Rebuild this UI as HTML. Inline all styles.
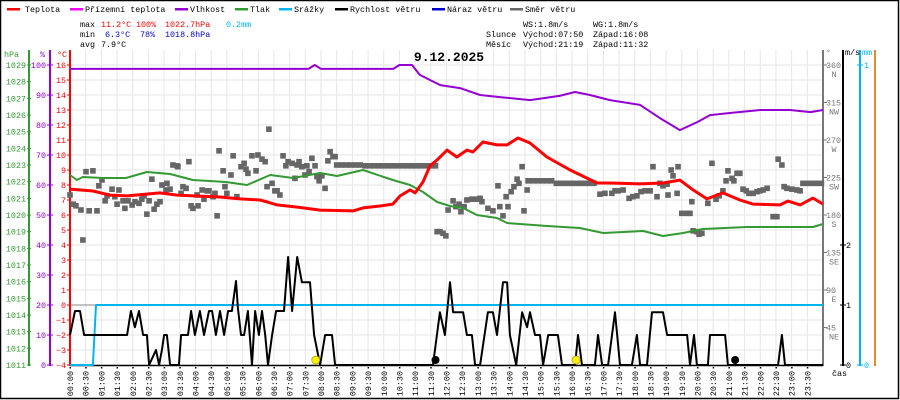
<!DOCTYPE html>
<html><head><meta charset="utf-8"><style>
html,body{margin:0;padding:0;background:#fff;}
svg{display:block;font-family:"Liberation Mono",monospace;}
</style></head><body>
<svg id="chart" width="900" height="400" viewBox="0 0 900 400" xmlns="http://www.w3.org/2000/svg">
<rect x="0.5" y="0.5" width="898" height="398" fill="#fff" stroke="#000" stroke-width="1.5"/>
<g id="grid"></g>
<g id="legend" font-size="8.4">
<g><rect x="7" y="8" width="13" height="2.5" fill="#f00"/><text x="25" y="12">Teplota</text></g>
<g><rect x="70" y="8" width="13" height="2.5" fill="#f0f"/><text x="85" y="12">Přízemní teplota</text></g>
<g><rect x="175" y="8" width="13" height="2.5" fill="#9400d3"/><text x="190" y="12">Vlhkost</text></g>
<g><rect x="235" y="8" width="13" height="2.5" fill="#339933"/><text x="250" y="12">Tlak</text></g>
<g><rect x="279" y="8" width="13" height="2.5" fill="#00b4f0"/><text x="294" y="12">Srážky</text></g>
<g><rect x="335" y="8" width="13" height="2.5" fill="#000"/><text x="350" y="12">Rychlost větru</text></g>
<g><rect x="432" y="8" width="13" height="2.5" fill="#0000cc"/><text x="447" y="12">Náraz větru</text></g>
<g><rect x="510" y="8" width="13" height="2.5" fill="#666"/><text x="525" y="12">Směr větru</text></g>
</g>
<g id="stats" font-size="8.4">
<text x="80" y="27">max</text><text x="101" y="27" fill="#f00">11.2°C</text><text x="136" y="27" fill="#f00">100%</text><text x="165" y="27" fill="#f00">1022.7hPa</text><text x="226" y="27" fill="#00b4f0">0.2mm</text>
<text x="80" y="37">min</text><text x="105" y="37" fill="#0000cc">6.3°C</text><text x="140" y="37" fill="#0000cc">78%</text><text x="165" y="37" fill="#0000cc">1018.8hPa</text>
<text x="80" y="47">avg</text><text x="101" y="47">7.9°C</text>
<text x="523" y="27">WS:1.8m/s</text><text x="593" y="27">WG:1.8m/s</text>
<text x="486" y="37">Slunce</text><text x="523" y="37">Východ:07:50</text><text x="593" y="37">Západ:16:08</text>
<text x="486" y="47">Měsíc</text><text x="523" y="47">Východ:21:19</text><text x="593" y="47">Západ:11:32</text>
</g>
<text x="449" y="61" font-size="13" font-weight="bold" text-anchor="middle">9.12.2025</text>
<g id="axes"></g>
<g id="series"></g>
</svg>
<script>
// ---- data ----
const timeLabels = ["00:00","00:30","01:00","01:30","02:00","02:30","03:00","03:30","04:00","04:30","05:00","05:30","06:00","06:30","07:00","07:30","08:00","08:30","09:00","09:30","10:00","10:30","11:00","11:30","12:00","12:30","13:00","13:30","14:00","14:30","15:00","15:30","16:00","16:30","17:00","17:30","18:00","18:30","19:00","19:30","20:00","20:30","21:00","21:30","22:00","22:30","23:00","23:30"];
const hpaTicks = [1029,1028,1027,1026,1025,1024,1023,1022,1021,1020,1019,1018,1017,1016,1015,1014,1013,1012,1011];
const pctTicks = [100,90,80,70,60,50,40,30,20,10,0];
const tempTicks = [16,15,14,13,12,11,10,9,8,7,6,5,4,3,2,1,0,-1,-2,-3,-4];
const dirTicks = [360,315,270,225,180,135,90,45];
const dirNames = ["N","NW","W","SW","S","SE","E","NE"];
const msTicks = [2,1,0];
const mmTicks = [1,0];

const tempT = [0,0.73,1.27,1.82,2.87,3.41,4.78,5.42,6.06,6.28,6.6,7.24,7.97,9.02,9.34,9.88,10.29,10.52,10.84,11.0,11.25,11.47,11.7,12.02,12.33,12.65,12.84,13.16,13.61,13.93,14.28,14.66,15.2,15.94,16.8,17.21,18.17,18.9,19.44,19.86,20.3,20.81,21.35,21.77,22.63,22.88,23.27,23.68,24];
const tempV = [7.73,7.6,7.33,7.27,7.47,7.33,7.2,7.07,7.0,6.87,6.67,6.53,6.33,6.27,6.47,6.6,6.73,7.27,7.67,7.47,8.2,9.27,9.67,10.33,9.87,10.33,10.2,10.87,10.67,10.67,11.13,10.8,9.87,9.0,8.13,8.13,8.07,8.13,8.33,7.67,7.07,7.47,7.0,6.73,6.67,6.93,6.67,7.13,6.73];

const humT = [0,7.6,7.8,8.0,10.3,10.5,10.9,11.15,11.8,12.43,13.07,13.7,14.66,15.6,16.1,16.57,17.21,18.17,18.8,19.44,20.0,20.4,21.03,22.0,22.95,23.6,24];
const humV = [98.7,98.7,100,98.7,98.7,100,100,96.7,93.3,92.3,90,89.3,88.3,89.7,91,90,88.3,86.7,82.3,78.3,81,83.3,84,85,85,84.3,85];

const presT = [0,0.22,0.41,1.05,1.78,2.45,3.19,3.92,4.97,5.64,6.38,7.11,7.97,8.51,9.34,10.29,10.84,11.25,11.7,12.11,12.53,12.97,13.61,13.93,15.2,16.25,16.99,18.27,18.9,19.54,20.17,21.58,23.68,24];
const presV = [1022.4,1022.1,1022.28,1022.22,1022.22,1022.58,1022.46,1022.1,1021.98,1021.8,1022.4,1022.22,1022.52,1022.34,1022.7,1022.1,1021.8,1021.38,1020.78,1020.54,1020.42,1020.0,1019.82,1019.52,1019.34,1019.22,1018.92,1019.04,1018.74,1018.92,1019.16,1019.28,1019.28,1019.46];

const rainT = [0,0.73,0.83,24];
const rainV = [0,0,0.2,0.2];

const windT = [0,0.16,0.32,0.45,1.82,1.94,2.07,2.2,2.33,2.45,2.52,2.74,2.84,2.93,3.0,3.09,3.19,3.47,3.54,3.76,3.86,3.98,4.14,4.27,4.43,4.53,4.65,4.78,4.91,5.04,5.16,5.29,5.35,5.45,5.55,5.67,5.8,5.9,6.02,6.12,6.22,6.31,6.44,6.57,6.82,6.95,7.08,7.24,7.39,7.65,7.78,7.97,8.13,8.35,8.45,11.57,11.79,11.95,12.11,12.21,12.53,12.65,12.81,12.91,13.07,13.32,13.48,13.61,13.8,13.93,14.02,14.22,14.41,14.57,14.66,14.82,14.98,15.08,15.24,15.55,15.68,16.1,16.19,16.32,16.73,16.83,16.96,17.15,17.37,17.53,17.91,18.07,18.17,18.39,18.55,18.9,19.03,19.67,19.76,19.89,19.98,20.33,20.4,20.88,20.97,22.57,22.69,22.79,24];
const windV = [0.5,0.9,0.9,0.5,0.5,0.9,0.63,0.9,0.5,0.5,0,0.25,0,0.25,0.5,0.5,0,0,0.5,0.5,0.9,0.5,0.9,0.5,0.9,0.9,0.5,0.9,0.5,0.9,0.9,1.4,0.95,0.5,0.5,0.9,0,0.9,0.5,0.9,0.5,0,0.5,0.9,0.9,1.8,0.9,1.8,1.38,1.38,0.5,0,0.5,0.5,0,0,0.88,0.5,1.38,0.88,0.88,0.5,0.5,0,0,0.88,0.88,0.5,1.38,1.38,0.5,0,0.88,0.63,0.88,0.5,0.5,0,0.5,0.5,0,0,0.5,0,0,0.5,0,0,0.88,0,0,0.5,0,0,0.88,0.88,0.5,0.5,0,0.5,0,0,0.5,0.5,0,0,0.5,0,0];

const dirT = [0,0.10,0.19,0.35,0.41,0.51,0.61,0.73,0.86,0.92,1.02,1.12,1.18,1.34,1.43,1.5,1.56,1.69,1.75,1.85,1.98,2.07,2.2,2.29,2.36,2.45,2.52,2.61,2.68,2.77,2.87,2.93,3.06,3.09,3.19,3.28,3.41,3.44,3.54,3.6,3.7,3.79,3.86,3.92,4.05,4.08,4.21,4.27,4.37,4.43,4.56,4.62,4.69,4.75,4.88,4.94,5.0,5.13,5.2,5.32,5.45,5.55,5.61,5.67,5.8,5.93,5.99,6.12,6.22,6.28,6.34,6.44,6.53,6.6,6.69,6.79,6.88,6.95,7.08,7.17,7.24,7.3,7.39,7.49,7.55,7.62,7.71,7.81,7.87,7.94,8.03,8.13,8.22,8.29,8.38,8.45,
8.5,8.65,8.8,8.95,9.1,9.25,9.4,9.55,9.7,9.85,10.0,10.15,10.3,10.45,10.6,10.75,10.9,11.05,11.2,11.35,11.5,11.65,
11.7,11.79,11.89,11.98,12.05,12.21,12.3,12.4,12.46,12.56,12.65,12.81,12.97,13.07,13.13,13.32,13.48,13.64,13.7,13.8,13.9,13.96,14.06,14.15,14.25,14.31,14.41,14.47,14.57,
14.6,14.75,14.9,15.05,15.2,15.35,15.5,15.65,15.8,15.95,16.1,16.25,16.4,16.55,16.7,
16.89,17.05,17.27,17.37,17.47,17.63,17.82,17.94,18.07,18.2,18.33,18.49,18.58,18.71,18.8,18.9,19.03,19.06,19.16,19.22,19.35,19.38,19.5,19.67,19.76,19.82,19.86,19.98,20.05,20.14,20.33,20.46,20.59,20.69,20.81,20.91,20.97,21.1,21.16,21.26,21.35,21.45,21.55,21.64,21.77,21.9,21.99,22.09,22.22,22.41,22.53,22.57,22.69,22.76,22.85,23.01,23.17,23.27,
23.36,23.5,23.65,23.8,23.95];
const dirV = [204,193,191,186,150,232,185,233,185,215,222,197,203,211,202,193,210,197,188,197,192,196,194,199,203,181,197,223,187,193,196,216,210,218,211,240,239,238,206,214,212,244,191,188,204,191,210,199,209,209,202,206,179,257,233,214,206,228,251,202,238,242,235,230,251,233,252,247,244,214,283,218,209,209,204,251,239,244,242,224,240,244,238,228,239,232,248,239,226,221,227,212,245,256,250,250,
240,240,240,240,240,240,239,239,239,239,239,239,239,239,239,239,239,239,239,239,239,239,
160,160,158,155,186,197,190,193,184,190,198,199,199,200,196,188,185,215,190,179,202,190,208,214,223,218,238,185,210,
221,221,221,221,221,221,218,218,218,218,218,218,218,218,218,
205,206,206,209,209,210,200,202,203,208,209,209,238,202,218,215,217,204,234,227,206,238,182,182,182,196,161,160,157,158,194,242,199,203,209,221,233,224,221,230,230,211,209,206,206,208,209,210,212,178,178,247,240,214,212,211,210,209,
218,218,218,218,218];

const sunEventsT = [7.833,16.133];
const moonEventsT = [11.65,21.2];

// ---- scales ----
const X = t => 70 + t * 31.375;
const YC = c => 305 - 15 * c;
const YH = h => 65 + (1029 - h) * 300 / 18;
const YP = p => 365 - 3 * p;
const YD = d => 365 - d / 1.2;
const YS = s => 365 - 60 * s;
const YR = r => 365 - 300 * r;

const NS = "http://www.w3.org/2000/svg";
function mk(tag, attrs, parent) {
  const e = document.createElementNS(NS, tag);
  for (const k in attrs) e.setAttribute(k, attrs[k]);
  parent.appendChild(e);
  return e;
}
const grid = document.getElementById('grid');
const axes = document.getElementById('axes');
const series = document.getElementById('series');
const FS = 8.4;

for (let i = 0; i <= 48; i++) {
  const x = X(i * 0.5);
  const l = mk('line', {x1: x, x2: x, y1: 50, y2: 365, stroke: '#e6e6e6', 'stroke-width': 1}, grid);
  
  
}
tempTicks.forEach(c => {
  const l = mk('line', {x1: 70, x2: 823, y1: YC(c), y2: YC(c), stroke: c === 0 ? '#888' : '#e6e6e6', 'stroke-width': 1}, grid);
  
  
});

function vline(x, color, name) {
  const l = mk('line', {x1: x, x2: x, y1: 50, y2: 366, stroke: color, 'stroke-width': 2}, axes);
  
  
}
vline(29, '#339933', 'hpa-axis');
vline(50, '#9400d3', 'humidity-axis');
vline(70, '#f00', 'temperature-axis');
vline(823, '#777', 'direction-axis');
vline(843, '#000', 'wind-speed-axis');
vline(860, '#00b4f0', 'rain-axis');
vline(875, '#e8892f', 'extra-axis');

function label(x, y, txt, color, anchor, name) {
  const t = mk('text', {x: x, y: y, fill: color, 'font-size': FS, 'text-anchor': anchor || 'end'}, axes);
  t.textContent = txt;
  
  
  return t;
}
label(4, 57, 'hPa', '#339933', 'start', 'hpa-axis-title');
label(40, 57, '%', '#9400d3', 'start', 'humidity-axis-title');
label(57, 57, '°C', '#f00', 'start', 'temperature-axis-title');
label(826, 55, '°', '#777', 'start', 'direction-axis-title');
label(845, 55, 'm/s', '#000', 'start', 'wind-speed-axis-title');
label(862, 55, 'mm', '#00b4f0', 'start', 'rain-axis-title');

hpaTicks.forEach(h => {
  label(26, YH(h) + 3, String(h), '#339933', 'end', 'hpa-tick-label');
  mk('line', {x1: 27, x2: 31, y1: YH(h), y2: YH(h), stroke: '#339933'}, axes);
});
pctTicks.forEach(p => {
  label(46, YP(p) + 3, String(p), '#9400d3', 'end', 'humidity-tick-label');
  mk('line', {x1: 47, x2: 53, y1: YP(p), y2: YP(p), stroke: '#9400d3'}, axes);
});
tempTicks.forEach(c => {
  label(66, YC(c) + 3, String(c).replace('-', '−'), '#f00', 'end', 'temperature-tick-label');
  mk('line', {x1: 67, x2: 70, y1: YC(c), y2: YC(c), stroke: '#f00'}, axes);
});
dirTicks.forEach((d, i) => {
  label(826, YD(d) + 3, String(d), '#777', 'start', 'direction-tick-label');
  label(834, YD(d) + 12, dirNames[i], '#777', 'middle', 'direction-name-label');
  mk('line', {x1: 823, x2: 827, y1: YD(d), y2: YD(d), stroke: '#777'}, axes);
});
msTicks.forEach(s => {
  label(846, YS(s) + 3, String(s), '#000', 'start', 'wind-speed-tick-label');
  mk('line', {x1: 840, x2: 846, y1: YS(s), y2: YS(s), stroke: '#000'}, axes);
});
mmTicks.forEach(r => {
  label(864, YR(r) + 3, String(r), '#00b4f0', 'start', 'rain-tick-label');
  mk('line', {x1: 857, x2: 863, y1: YR(r), y2: YR(r), stroke: '#00b4f0'}, axes);
});

const xa = mk('line', {x1: 70, x2: 823, y1: 365.5, y2: 365.5, stroke: '#000', 'stroke-width': 1.5}, axes);


timeLabels.forEach((s, i) => {
  const x = X(i * 0.5);
  mk('rect', {x: x - 0.5, y: 367, width: 1.5, height: 1.5, fill: '#000'}, axes);
  const t = mk('text', {x: 0, y: 0, 'font-size': FS, 'text-anchor': 'end', transform: `translate(${x + 3},371) rotate(-90)`}, axes);
  t.textContent = s;
  
  
});
label(832, 376, 'čas', '#000', 'start', 'x-axis-title');

function poly(ts, vs, sy, color, w, name) {
  const pts = ts.map((t, i) => X(t).toFixed(1) + ',' + sy(vs[i]).toFixed(1)).join(' ');
  const p = mk('polyline', {points: pts, fill: 'none', stroke: color, 'stroke-width': w, 'stroke-linejoin': 'round'}, series);
  
  
}
dirT.forEach((t, i) => {
  const r = mk('rect', {x: X(t) - 2.8, y: YD(dirV[i]) - 2.8, width: 5.6, height: 5.6, fill: '#666'}, series);
  
  
});
poly(rainT, rainV, YR, '#00b4f0', 2, 'rain-line');
poly(windT, windV, YS, '#000', 2, 'wind-speed-line');
poly(presT, presV, YH, '#339933', 2, 'pressure-line');
poly(humT, humV, YP, '#9400d3', 2, 'humidity-line');
poly(tempT, tempV, YC, '#f00', 3, 'temperature-line');

sunEventsT.forEach(t => {
  const c = mk('circle', {cx: X(t), cy: 360, r: 4, fill: '#ffee00', stroke: '#aa9900', 'stroke-width': 0.7}, series);
  
  
});
moonEventsT.forEach(t => {
  const c = mk('circle', {cx: X(t), cy: 360, r: 4, fill: '#000'}, series);
  
  
});
</script>
</body></html>
